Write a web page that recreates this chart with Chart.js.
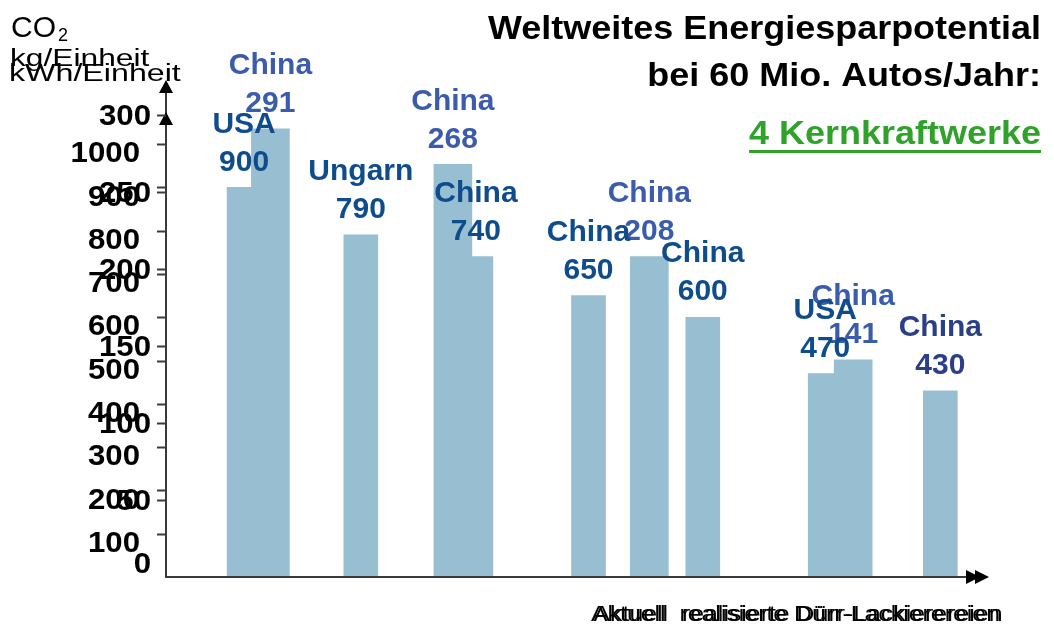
<!DOCTYPE html>
<html lang="de">
<head>
<meta charset="utf-8">
<title>Weltweites Energiesparpotential</title>
<script src="https://cdn.jsdelivr.net/npm/chart.js@4.4.1/dist/chart.umd.min.js"></script>
<style>
  html, body { margin: 0; padding: 0; background: #fff; }
  #wrap { width: 1054px; height: 630px; }
</style>
</head>
<body>
<div id="wrap"><canvas id="chart" width="1054" height="630"></canvas></div>
<script>
// Energy per unit (kWh) of each paint shop
const kwhCountries = ["USA", "Ungarn", "China", "China", "China", "USA", "China"];
const kwhValues = [900, 790, 740, 650, 600, 470, 430];

// CO2 per unit (kg)
const co2Countries = ["China", "China", "China", "China"];
const co2Values = [291, 268, 208, 141];

// tick labels of both value axes
const kwhTicks = [100, 200, 300, 400, 500, 600, 700, 800, 900, 1000];
const co2Ticks = [0, 50, 100, 150, 200, 250, 300];

// layout: where each shop sits on the (hidden) 0..100 position axis
const kwhSlots = [9.5, 23.7, 37.7, 51.4, 65.3, 80.2, 94.2];
const co2Slots = [12.7, 34.9, 58.8, 83.6];

// label colours
const kwhLabelColors = ["#0e4c8d", "#0e4c8d", "#0e4c8d", "#0e4c8d", "#0e4c8d", "#0e4c8d", "#2a3f88"];
const co2LabelColor = "#3b5bad";
const barColor = "#98bfd1";
const FONT = '"Liberation Sans", Arial, sans-serif';

function stretchText(ctx, text, x, y, sx, align) {
    ctx.save();
    ctx.translate(x, y);
    ctx.scale(sx, 1);
    ctx.textAlign = align;
    ctx.fillText(text, 0, 0);
    ctx.restore();
}

function arrowUp(ctx, x, tipY) {
    ctx.beginPath();
    ctx.moveTo(x, tipY);
    ctx.lineTo(x - 7, tipY + 13);
    ctx.lineTo(x + 7, tipY + 13);
    ctx.closePath();
    ctx.fill();
}

function arrowRight(ctx, tipX, y) {
    ctx.beginPath();
    ctx.moveTo(tipX, y);
    ctx.lineTo(tipX - 14, y - 7);
    ctx.lineTo(tipX - 14, y + 7);
    ctx.closePath();
    ctx.fill();
}

// axes, tick labels, bar captions and headings
const decorPlugin = {
    id: "decor",
    afterDatasetsDraw(chart) {
        const ctx = chart.ctx;
        const yK = chart.scales.y;
        const yC = chart.scales.y2;
        const area = chart.chartArea;
        const x0 = area.left;
        const base = yK.getPixelForValue(0);

        ctx.save();

        // value axis with two arrow heads
        ctx.strokeStyle = "#3a3a3a";
        ctx.fillStyle = "#000";
        ctx.lineWidth = 2;
        ctx.beginPath();
        ctx.moveTo(x0, base + 1);
        ctx.lineTo(x0, 88);
        ctx.stroke();
        arrowUp(ctx, x0, 80);
        arrowUp(ctx, x0, yC.getPixelForValue(300) - 3);

        // category axis
        ctx.beginPath();
        ctx.moveTo(x0, base);
        ctx.lineTo(area.right - 12, base);
        ctx.stroke();
        arrowRight(ctx, area.right - 8, base);
        arrowRight(ctx, area.right + 1, base);

        // tick marks
        ctx.lineWidth = 2;
        kwhTicks.forEach(t => {
            const py = Math.round(yK.getPixelForValue(t)) + 0.5;
            ctx.beginPath(); ctx.moveTo(x0 - 9, py); ctx.lineTo(x0, py); ctx.stroke();
        });
        co2Ticks.forEach(t => {
            if (t === 0) return;
            const py = Math.round(yC.getPixelForValue(t)) + 0.5;
            ctx.beginPath(); ctx.moveTo(x0 - 9, py); ctx.lineTo(x0, py); ctx.stroke();
        });

        // tick labels
        ctx.fillStyle = "#000";
        ctx.textBaseline = "middle";
        ctx.font = "bold 30px " + FONT;
        kwhTicks.forEach(t => {
            stretchText(ctx, String(t), 140, yK.getPixelForValue(t) + 10, 1.04, "right");
        });
        co2Ticks.forEach(t => {
            const py = t === 0 ? yC.getPixelForValue(t) - 12 : yC.getPixelForValue(t) + 2;
            stretchText(ctx, String(t), 151, py, 1.04, "right");
        });

        // bar captions: country over value
        ctx.font = "bold 30px " + FONT;
        ctx.textAlign = "center";
        const drawCaptions = (dsIndex, countries, values, colorOf) => {
            chart.getDatasetMeta(dsIndex).data.forEach((bar, i) => {
                ctx.fillStyle = colorOf(i);
                ctx.fillText(String(values[i]), bar.x, bar.y - 25);
                ctx.fillText(countries[i], bar.x, bar.y - 63);
            });
        };
        drawCaptions(1, co2Countries, co2Values, () => co2LabelColor);
        drawCaptions(0, kwhCountries, kwhValues, i => kwhLabelColors[i]);

        // axis units
        ctx.fillStyle = "#000";
        ctx.textBaseline = "alphabetic";
        ctx.font = "30px " + FONT;
        stretchText(ctx, "CO", 11, 37, 1.0, "left");
        ctx.font = "18px " + FONT;
        stretchText(ctx, "2", 58, 41, 1.0, "left");
        ctx.font = "23px " + FONT;
        stretchText(ctx, "kg/Einheit", 10, 66, 1.38, "left");
        stretchText(ctx, "kWh/Einheit", 9, 81, 1.4, "left");

        // category axis title (double struck)
        ctx.font = "22px " + FONT;
        stretchText(ctx, "Aktuell  realisierte Dürr-Lackierereien", 591, 621, 1.13, "left");
        stretchText(ctx, "Aktuell  realisierte Dürr-Lackierereien", 593.5, 621, 1.13, "left");

        // heading
        ctx.font = "bold 33px " + FONT;
        stretchText(ctx, "Weltweites Energiesparpotential", 1041, 39, 1.09, "right");
        stretchText(ctx, "bei 60 Mio. Autos/Jahr:", 1041, 86, 1.09, "right");
        ctx.fillStyle = "#2fa22a";
        stretchText(ctx, "4 Kernkraftwerke", 1041, 144, 1.09, "right");
        const w = ctx.measureText("4 Kernkraftwerke").width * 1.09;
        ctx.fillRect(1041 - w, 150, w, 3);

        ctx.restore();
    }
};

new Chart(document.getElementById("chart"), {
    type: "bar",
    data: {
        datasets: [
            {
                label: "kWh/Einheit",
                data: kwhValues.map((v, i) => ({ x: kwhSlots[i], y: v })),
                yAxisID: "y",
                backgroundColor: barColor,
                barThickness: 34,
                grouped: false,
                order: 2
            },
            {
                label: "CO2 kg/Einheit",
                data: co2Values.map((v, i) => ({ x: co2Slots[i], y: v })),
                yAxisID: "y2",
                backgroundColor: barColor,
                barThickness: 38,
                grouped: false,
                order: 1
            }
        ]
    },
    options: {
        responsive: false,
        animation: false,
        devicePixelRatio: 1,
        layout: { padding: { left: 166, right: 66, top: 115, bottom: 53 } },
        plugins: { legend: { display: false }, tooltip: { enabled: false } },
        scales: {
            x: { type: "linear", min: 0, max: 100, offset: false, display: false },
            y: { type: "linear", min: 0, max: 1067, display: false },
            y2: { type: "linear", min: 0, max: 300, display: false, position: "left" }
        }
    },
    plugins: [decorPlugin]
});
</script>
</body>
</html>
